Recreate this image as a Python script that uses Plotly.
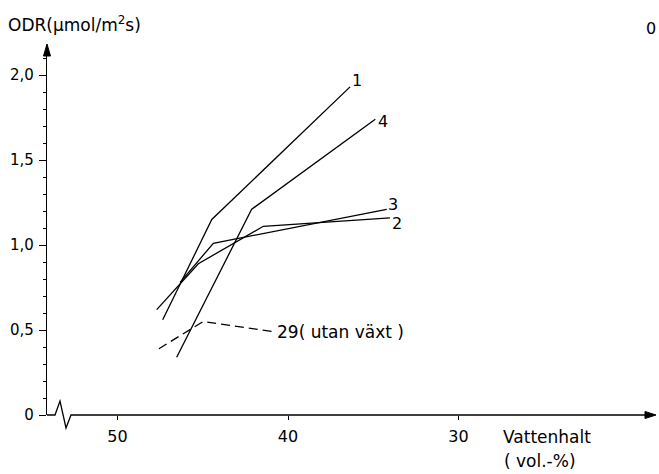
import plotly.graph_objects as go

# ---- data ----
x_line1 = [47.35, 44.47, 36.36]
y_line1 = [0.56, 1.15, 1.93]

x_line2 = [47.70, 45.26, 41.45, 34.02]
y_line2 = [0.62, 0.89, 1.11, 1.16]

x_line3 = [46.33, 44.38, 34.21]
y_line3 = [0.78, 1.01, 1.21]

x_line4 = [46.53, 42.13, 34.88]
y_line4 = [0.34, 1.21, 1.74]

x_line29 = [47.57, 44.97, 40.86]
y_line29 = [0.39, 0.55, 0.49]

y_tickvals = [0, 0.5, 1.0, 1.5, 2.0]
y_ticktext = ["0", "0,5", "1,0", "1,5", "2,0"]
x_tickvals = [50, 40, 30]
x_ticktext = ["50", "40", "30"]

FONT = "DejaVu Sans"
W, H = 659, 474
AX_X, AX_Y, TOP_Y, RIGHT_X = 47, 415, 45, 655   # page pixels
ML = AX_X
MT = TOP_Y
MR = W - RIGHT_X
MB = H - AX_Y
PW, PH = W - ML - MR, H - MT - MB
X_RANGE = [50 + (117.5 - AX_X) / 17.05, 50 - (RIGHT_X - 117.5) / 17.05]
Y_RANGE = [0, PH / 170.0]


def px(x):
    return (x - ML) / PW


def py(y):
    return (H - MB - y) / PH


fig = go.Figure()
line_style = dict(color="black", width=1.3)
for xs, ys in [(x_line1, y_line1), (x_line2, y_line2), (x_line3, y_line3), (x_line4, y_line4)]:
    fig.add_trace(go.Scatter(x=xs, y=ys, mode="lines", line=line_style, showlegend=False, hoverinfo="skip"))
fig.add_trace(go.Scatter(x=x_line29, y=y_line29, mode="lines",
                         line=dict(color="black", width=1.3, dash="9px,5px"),
                         showlegend=False, hoverinfo="skip"))

ann = []
tf = dict(family=FONT, size=15, color="black")
tl = dict(family=FONT, size=17, color="black")
tn = dict(family=FONT, size=16, color="black")
# series labels placed at series end points
for xs, ys, lab, dx, dy in [(x_line1, y_line1, "1", 7, 6), (x_line4, y_line4, "4", 8, -2),
                             (x_line3, y_line3, "3", 6, 5), (x_line2, y_line2, "2", 7, -6)]:
    ann.append(dict(x=xs[-1], y=ys[-1], xref="x", yref="y", text=lab, showarrow=False,
                    xanchor="center", yanchor="middle", xshift=dx, yshift=dy, font=tn))
ann.append(dict(x=x_line29[-1], y=y_line29[-1], xref="x", yref="y", text="29( utan växt )",
                showarrow=False, xanchor="left", yanchor="middle", xshift=2, yshift=0, font=tl))
ann.append(dict(x=px(6), y=py(24), xref="paper", yref="paper", text="ODR(µmol/m<sup>2</sup>s)",
                showarrow=False, xanchor="left", yanchor="middle", font=tl))
ann.append(dict(x=px(651), y=py(28), xref="paper", yref="paper", text="0",
                showarrow=False, xanchor="center", yanchor="middle", font=tn))
ann.append(dict(x=px(501), y=py(437), xref="paper", yref="paper", text="Vattenhalt",
                showarrow=False, xanchor="left", yanchor="middle", font=tl))
ann.append(dict(x=px(502), y=py(461), xref="paper", yref="paper", text="( vol.-%)",
                showarrow=False, xanchor="left", yanchor="middle", font=tl))

shapes = []
# x axis line with break squiggle
pts = [(47, 415), (55, 415), (60, 401), (66, 428), (71, 415), (650, 415)]
path = "M " + " L ".join(f"{px(a):.5f},{py(b):.5f}" for a, b in pts)
shapes.append(dict(type="path", xref="paper", yref="paper", path=path,
                   line=dict(color="black", width=1.3)))
# arrow heads
shapes.append(dict(type="path", xref="paper", yref="paper",
                   path=f"M {px(656):.5f},{py(415):.5f} L {px(645):.5f},{py(411.5):.5f} L {px(645):.5f},{py(418.5):.5f} Z",
                   fillcolor="black", line=dict(color="black", width=1)))
shapes.append(dict(type="path", xref="paper", yref="paper",
                   path=f"M {px(47):.5f},{py(44):.5f} L {px(43.5):.5f},{py(56):.5f} L {px(50.5):.5f},{py(56):.5f} Z",
                   fillcolor="black", line=dict(color="black", width=1)))

fig.update_layout(
    width=W, height=H,
    margin=dict(l=ML, r=MR, t=MT, b=MB, pad=0),
    paper_bgcolor="white", plot_bgcolor="white",
    annotations=ann, shapes=shapes,
    font=tf,
    xaxis=dict(range=X_RANGE, showgrid=False, zeroline=False, showline=False,
               tickvals=x_tickvals, ticktext=x_ticktext, ticks="outside", ticklen=4,
               tickcolor="black", tickwidth=1.2, tickfont=tn, ticklabelstandoff=3, fixedrange=True),
    yaxis=dict(range=Y_RANGE, showgrid=False, zeroline=False, showline=True,
               linecolor="black", linewidth=1.3,
               tickvals=y_tickvals, ticktext=y_ticktext, ticks="outside", ticklen=7,
               tickcolor="black", tickwidth=1.2, tickfont=tf, ticklabelstandoff=2,
               minor=dict(dtick=0.1, tick0=0, ticks="outside", ticklen=3, tickcolor="black", tickwidth=1),
               fixedrange=True),
)

fig.write_html(
    "out.html",
    config={"displayModeBar": False},
    post_script="document.documentElement.style.margin='0';document.documentElement.style.overflow='hidden';"
                "document.body.style.margin='0';document.body.style.padding='0';document.body.style.overflow='hidden';",
)
